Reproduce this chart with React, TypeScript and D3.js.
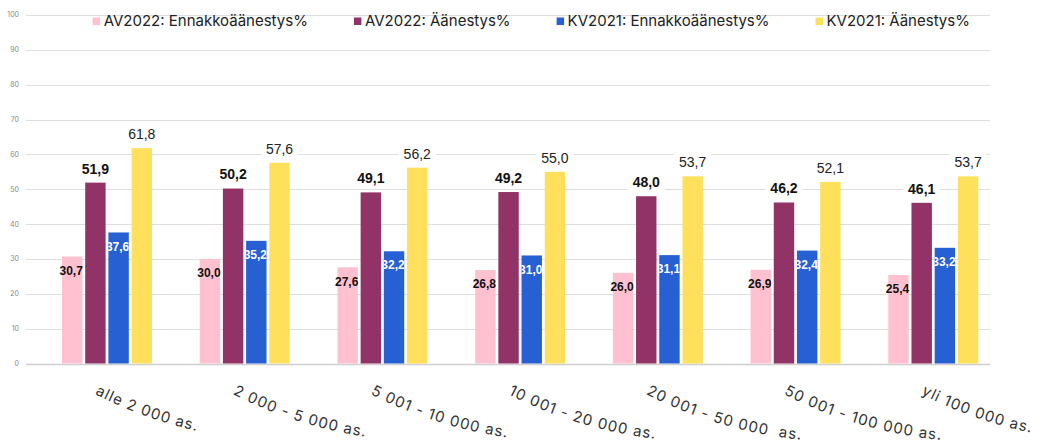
import React, { useEffect, useRef } from "react";
import * as d3 from "d3";

const categories = [
  "alle 2 000 as.",
  "2 000 - 5 000 as.",
  "5 001 - 10 000 as.",
  "10 001 - 20 000 as.",
  "20 001 - 50 000  as.",
  "50 001 - 100 000 as.",
  "yli 100 000 as.",
];
const seriesNames = [
  "AV2022: Ennakkoäänestys%",
  "AV2022: Äänestys%",
  "KV2021: Ennakkoäänestys%",
  "KV2021: Äänestys%",
];
const av2022Ennakko = [30.7, 30.0, 27.6, 26.8, 26.0, 26.9, 25.4];
const av2022Aanestys = [51.9, 50.2, 49.1, 49.2, 48.0, 46.2, 46.1];
const kv2021Ennakko = [37.6, 35.2, 32.2, 31.0, 31.1, 32.4, 33.2];
const kv2021Aanestys = [61.8, 57.6, 56.2, 55.0, 53.7, 52.1, 53.7];
const yTicks = [0, 10, 20, 30, 40, 50, 60, 70, 80, 90, 100];

const seriesValues = [av2022Ennakko, av2022Aanestys, kv2021Ennakko, kv2021Aanestys];
const colors = ["#ffc0cf", "#913366", "#2660d3", "#ffe05c"];

const W = 1041;
const H = 448;
const FONT = "Inter, 'Noto Sans', sans-serif";
const NUMFONT = "'Liberation Sans', Arial, sans-serif";

export default function App() {
  const ref = useRef<SVGSVGElement | null>(null);

  useEffect(() => {
    const svg = d3.select(ref.current);
    svg.selectAll("*").remove();
    const defs = svg.append("defs");

    const y = d3.scaleLinear().domain([0, 100]).range([363.5, 15]);
    const x = d3.scaleBand<string>().domain(categories).range([26, 990]).paddingInner(0).paddingOuter(0);
    const xs = d3.scaleBand<string>().domain(seriesNames).range([36, 126]).paddingInner(0.12);

    // grid
    const grid = svg.append("g");
    yTicks.forEach((t) => {
      grid
        .append("line")
        .attr("x1", 26)
        .attr("x2", 990)
        .attr("y1", Math.round(y(t)) + 0.5)
        .attr("y2", Math.round(y(t)) + 0.5)
        .attr("stroke", t === 0 ? "#cfcfcf" : "#dedede")
        .attr("stroke-width", t === 0 ? 1.5 : 1);
      grid
        .append("text")
        .attr("x", 19)
        .attr("y", y(t))
        .attr("dy", "0.35em")
        .attr("text-anchor", "end")
        .attr("font-family", FONT)
        .attr("font-size", 7)
        .attr("fill", "#888")
        .text(String(t));
    });

    // bars
    const bars = svg.append("g");
    categories.forEach((c, ci) => {
      seriesNames.forEach((s, si) => {
        const v = seriesValues[si][ci];
        const bx = (x(c) as number) + (xs(s) as number);
        bars
          .append("rect")
          .attr("x", bx)
          .attr("y", y(v))
          .attr("width", xs.bandwidth())
          .attr("height", y(0) - y(v))
          .attr("fill", colors[si]);
      });
    });

    // labels
    const labels = svg.append("g");
    categories.forEach((c, ci) => {
      seriesNames.forEach((s, si) => {
        const v = seriesValues[si][ci];
        const left = (x(c) as number) + (xs(s) as number);
        const bx = left + xs.bandwidth() / 2;
        const txt = d3.format(".1f")(v).replace(".", ",");
        if (si === 0 || si === 2) {
          const t = labels
            .append("text")
            .attr("x", bx - 1)
            .attr("y", y(v) + 14)
            .attr("dy", "0.35em")
            .attr("text-anchor", "middle")
            .attr("font-family", NUMFONT)
            .attr("font-weight", "bold")
            .attr("font-size", 12)
            .attr("fill", si === 0 ? "#111" : "#fff")
            .text(txt);
          if (si === 2) {
            const cid = `clip-blue-${ci}`;
            defs
              .append("clipPath")
              .attr("id", cid)
              .append("rect")
              .attr("x", left)
              .attr("y", y(v))
              .attr("width", xs.bandwidth())
              .attr("height", y(0) - y(v));
            t.attr("clip-path", `url(#${cid})`);
          }
        } else {
          const g = labels.append("g");
          const bg = g.append("rect");
          const t = g
            .append("text")
            .attr("x", bx)
            .attr("y", y(v) - 14)
            .attr("dy", "0.35em")
            .attr("text-anchor", "middle")
            .attr("font-family", NUMFONT)
            .attr("font-weight", si === 1 ? "bold" : "normal")
            .attr("font-size", 14)
            .attr("fill", si === 1 ? "#111" : "#222")
            .text(txt);
          const w = (t.node() as SVGTextElement).getComputedTextLength();
          bg.attr("x", bx - w / 2 - 5)
            .attr("y", y(v) - 23)
            .attr("width", w + 10)
            .attr("height", 18)
            .attr("fill", "#fff");
        }
      });
    });

    // x labels on a gently curving path
    const xl = svg.append("g");
    const theta0 = (27 * Math.PI) / 180;
    const R = 440;
    const arcLen = 260;
    categories.forEach((c, i) => {
      const px = (x(c) as number) + x.bandwidth() / 2;
      const py = 394;
      const cx = px + R * Math.sin(theta0);
      const cy = py - R * Math.cos(theta0);
      const theta1 = theta0 - arcLen / R;
      const ex = cx - R * Math.sin(theta1);
      const ey = cy + R * Math.cos(theta1);
      const id = `xlabel-path-${i}`;
      defs
        .append("path")
        .attr("id", id)
        .attr("d", `M${px},${py} A${R},${R} 0 0 0 ${ex},${ey}`);
      xl.append("text")
        .attr("font-family", FONT)
        .attr("font-size", 15)
        .attr("letter-spacing", 1)
        .attr("fill", "#333")
        .style("white-space", "pre")
        .append("textPath")
        .attr("href", `#${id}`)
        .text(c);
    });

    // legend
    const lg = svg.append("g");
    let lx = 92.7;
    seriesNames.forEach((s, si) => {
      lg.append("rect").attr("x", lx).attr("y", 17.5).attr("width", 7.5).attr("height", 7.5).attr("fill", colors[si]);
      const t = lg
        .append("text")
        .attr("x", lx + 11)
        .attr("y", 21)
        .attr("dy", "0.35em")
        .attr("font-family", FONT)
        .attr("font-size", 15)
        .attr("fill", "#222")
        .text(s);
      lx += 11 + (t.node() as SVGTextElement).getComputedTextLength() + 46;
    });
  }, []);

  return (
    <svg
      ref={ref}
      width={W}
      height={H}
      style={{ position: "absolute", left: 0, top: 0, background: "#fff" }}
    />
  );
}
